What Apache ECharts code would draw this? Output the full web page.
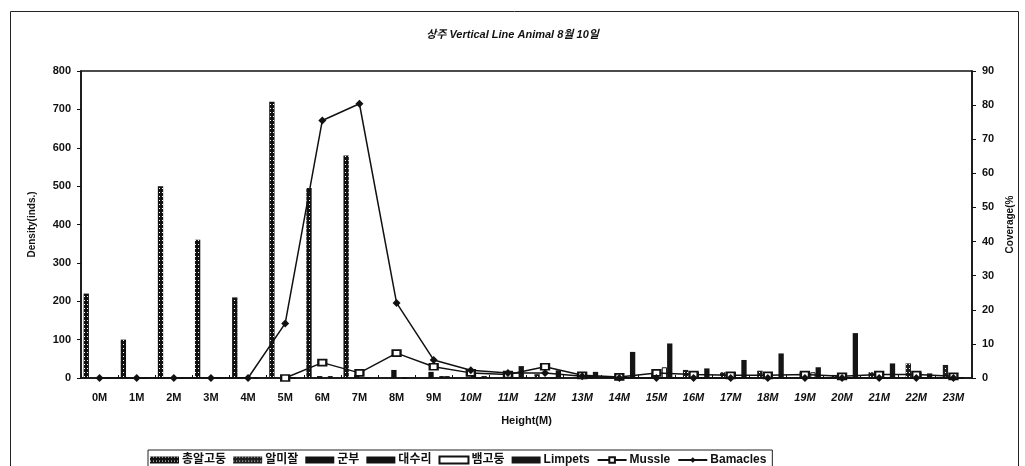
<!DOCTYPE html>
<html><head><meta charset="utf-8">
<script src="https://cdn.jsdelivr.net/npm/echarts@6/dist/echarts.min.js"></script>
<style>html,body{margin:0;padding:0;background:#fff}#c{width:1025px;height:466px}</style>
</head><body><div id="c"></div>
<script>
const categories = ['0M','1M','2M','3M','4M','5M','6M','7M','8M','9M','10M','11M','12M','13M','14M','15M','16M','17M','18M','19M','20M','21M','22M','23M'];
const s총알고둥 = [220,100,500,360,210,720,495,580,0,0,0,0,0,0,0,0,0,0,0,0,0,0,0,0];
const s알미잘 = [0,0,0,0,0,0,0,0,0,0,0,0,10,0,0,0,21,15,19,0,8,15,38,34];
const s군부 = [0,0,0,0,0,0,5,8,21,16,0,0,0,12,5,10,0,0,0,16,8,0,0,0];
const s대수리 = [0,0,0,0,0,0,0,0,0,0,10,10,0,5,0,0,16,15,0,0,0,0,15,0];
const s뱀고둥 = [0,0,0,0,0,0,5,0,0,5,0,0,0,0,0,28,0,0,0,15,0,0,0,0];
const sLimpets = [0,0,0,0,0,0,0,0,0,5,5,31,20,16,68,90,25,47,64,28,117,38,12,0];
const sMussle = [null,null,null,null,null,0,4.5,1.5,7.3,3.3,1.5,1,3.3,0.8,0.3,1.5,1,0.8,0.8,1,0.5,1,1,0.5];
const sBamacles = [0,0,0,0,0,16,75.5,80.4,22,5.3,2.3,1.5,1.5,0.5,0,0,0,0,0,0,0,0,0,0];
const densityTicks = {min:0, max:800, interval:100};
const coverageTicks = {min:0, max:90, interval:10};

const FONT = '"Liberation Sans", "Noto Sans CJK KR", sans-serif';
const dots = {symbol:'rect', symbolSize:1, color:'#ffffff', dashArrayX:[1,2], dashArrayY:[1,3], rotation:0};
function bar(name, data, color, decal, border) {
  const s = {name, type:'bar', data, yAxisIndex:0, barGap:'0%', barCategoryGap:'14%',
    itemStyle:{color, borderColor:border||color, borderWidth:border?1:0}};
  if (decal) s.itemStyle.decal = decal;
  return s;
}
const chart = echarts.init(document.getElementById('c'));
chart.setOption({
  animation:false,
  textStyle:{fontFamily:FONT},
  title:{text:'상주 Vertical Line Animal 8월 10일', left:'center', top:24,
    textStyle:{fontFamily:FONT, fontSize:11, fontWeight:'bold', fontStyle:'italic', color:'#111'}},
  graphic:[{type:'rect', left:8, top:9, shape:{width:1008, height:480}, style:{fill:'none', stroke:'#222', lineWidth:1}, z:-1}],
  grid:{left:81, right:53, top:71, bottom:88, show:true, borderColor:'#111', borderWidth:1.5},
  legend:{left:148, top:450, itemGap:7, itemWidth:29, itemHeight:7, borderColor:'#222', borderWidth:1, padding:[4,6,10,2],
    textStyle:{fontFamily:FONT, fontSize:12, fontWeight:'bold', color:'#111', padding:[0,0,0,-2]},
    data:[{name:'총알고둥',icon:'rect'},{name:'알미잘',icon:'rect'},{name:'군부',icon:'rect'},{name:'대수리',icon:'rect'},{name:'뱀고둥',icon:'rect'},{name:'Limpets',icon:'rect'},'Mussle','Bamacles']},
  xAxis:{type:'category', data:categories, boundaryGap:true,
    name:'Height(M)', nameLocation:'middle', nameGap:37,
    nameTextStyle:{fontFamily:FONT, fontSize:11, fontWeight:'bold', color:'#111'},
    axisLine:{lineStyle:{color:'#111', width:1.5}},
    axisTick:{show:true, inside:true, length:3, lineStyle:{color:'#111'}},
    axisLabel:{margin:14, interval:0, color:'#111', fontSize:11, fontWeight:'bold',
      formatter:(v,i)=> i>=10 ? '{it|'+v+'}' : v,
      rich:{it:{fontStyle:'italic', fontWeight:'bold', fontSize:11, color:'#111', fontFamily:FONT}}}},
  yAxis:[
    {type:'value', min:densityTicks.min, max:densityTicks.max, interval:densityTicks.interval,
     name:'Density(inds.)', nameLocation:'middle', nameGap:44, nameRotate:90,
     nameTextStyle:{fontFamily:FONT, fontSize:10, fontWeight:'bold', color:'#111'},
     axisLine:{show:true, lineStyle:{color:'#111', width:1.5}},
     axisTick:{show:true, length:4, lineStyle:{color:'#111'}}, splitLine:{show:false},
     axisLabel:{color:'#111', fontSize:11, fontWeight:'bold', margin:10}},
    {type:'value', min:coverageTicks.min, max:coverageTicks.max, interval:coverageTicks.interval, position:'right',
     name:'Coverage(%', nameLocation:'middle', nameGap:32, nameRotate:90,
     nameTextStyle:{fontFamily:FONT, fontSize:10, fontWeight:'bold', color:'#111'},
     axisLine:{show:true, lineStyle:{color:'#111', width:1.5}},
     axisTick:{show:true, length:4, lineStyle:{color:'#111'}}, splitLine:{show:false},
     axisLabel:{color:'#111', fontSize:11, fontWeight:'bold', margin:10}}
  ],
  series:[
    bar('총알고둥', s총알고둥, '#111111', dots),
    bar('알미잘', s알미잘, '#1e1e1e', dots),
    bar('군부', s군부, '#111111'),
    bar('대수리', s대수리, '#111111'),
    bar('뱀고둥', s뱀고둥, '#ffffff', null, '#111'),
    bar('Limpets', sLimpets, '#151515'),
    {name:'Mussle', type:'line', yAxisIndex:1, data:sMussle, symbol:'emptyRect', symbolSize:[8,6],
     lineStyle:{color:'#111', width:1.5}, itemStyle:{color:'#111', borderColor:'#111', borderWidth:1.5}, z:5},
    {name:'Bamacles', type:'line', yAxisIndex:1, data:sBamacles, symbol:'diamond', symbolSize:8,
     lineStyle:{color:'#111', width:1.5}, itemStyle:{color:'#111'}, z:6}
  ]
});
</script></body></html>
